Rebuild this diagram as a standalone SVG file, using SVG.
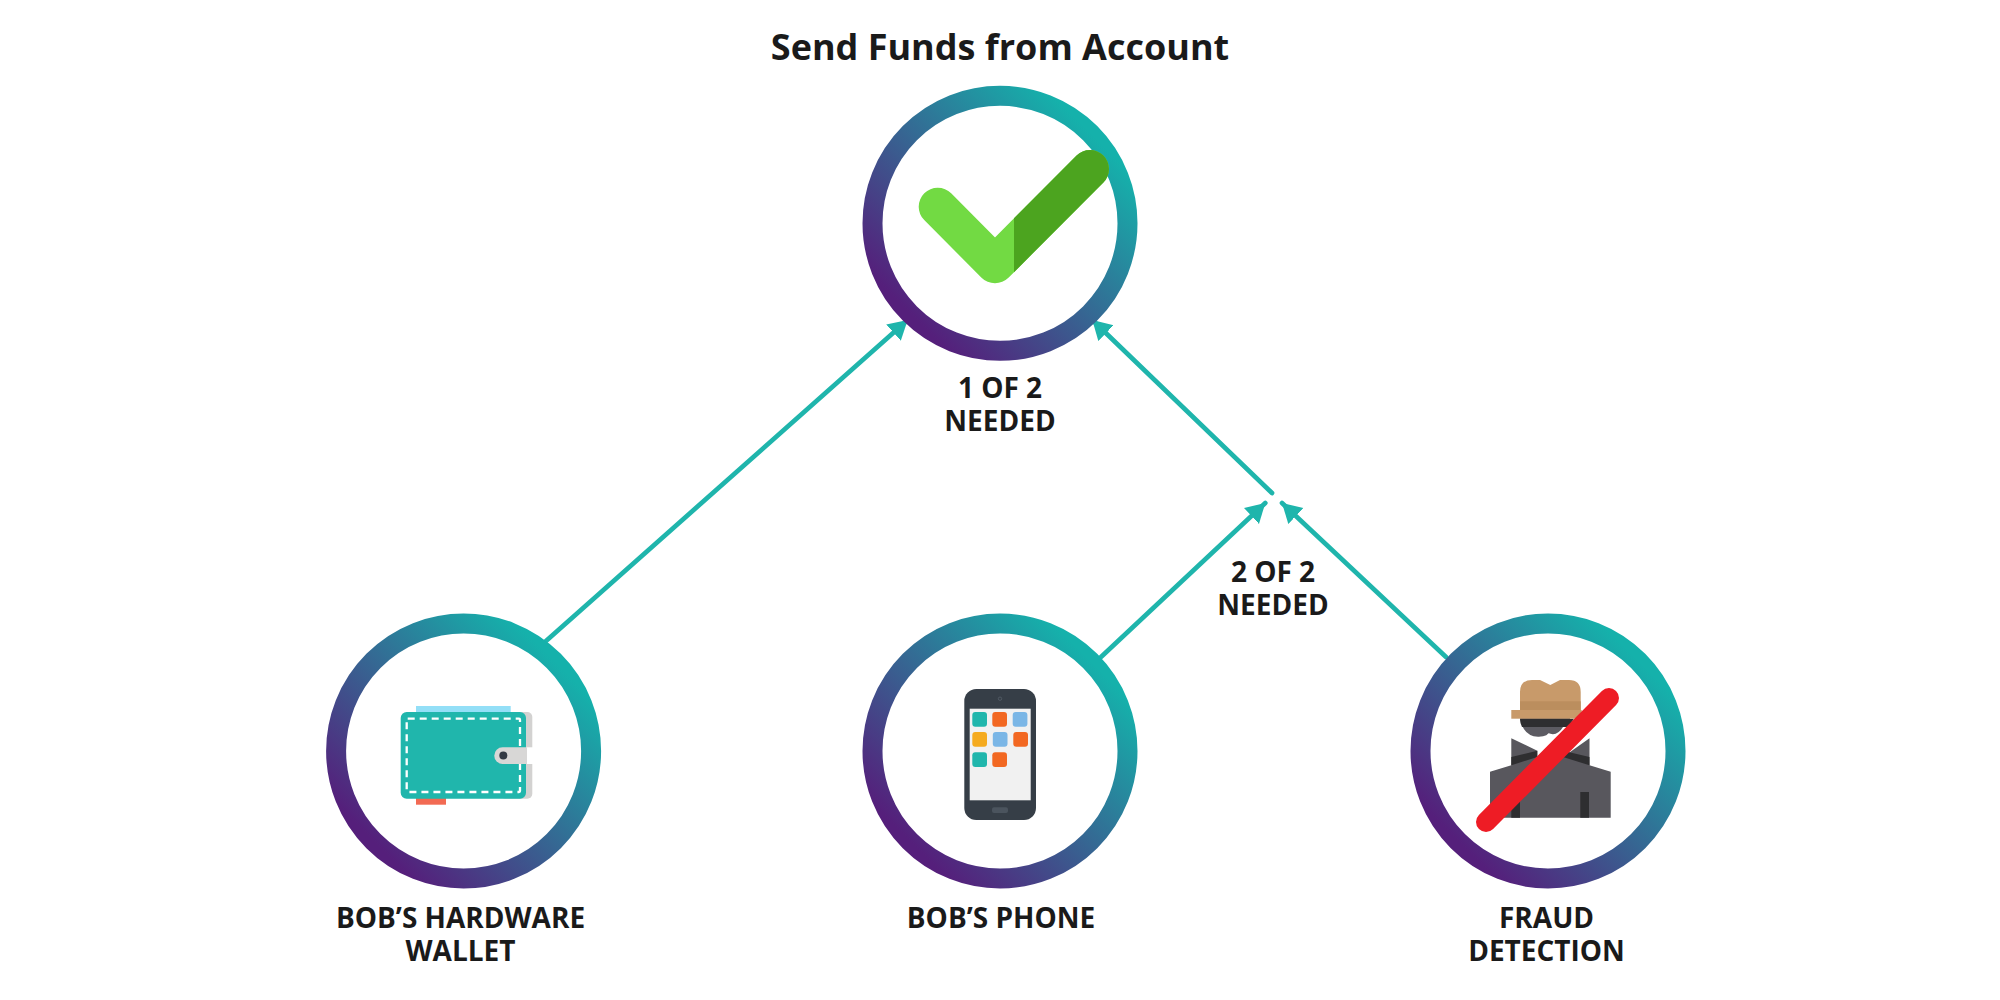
<svg xmlns="http://www.w3.org/2000/svg" width="2000" height="1000" viewBox="0 0 2000 1000">
<style>
text{font-family:"Open Sans","Liberation Sans",sans-serif;font-weight:700;fill:#1a1a1a;text-anchor:middle}
.lb{font-size:28px}
.ring{fill:#fff;stroke:url(#g);stroke-width:20}
.cn{fill:none;stroke:#1fb5ac;stroke-width:4.7;stroke-linecap:round}
</style>
<defs>
<linearGradient id="g" x1="0.146" y1="0.854" x2="0.854" y2="0.146"><stop offset="0" stop-color="#551f7b"/><stop offset="1" stop-color="#15b1ab"/></linearGradient>
<marker id="a" markerUnits="userSpaceOnUse" markerWidth="22" markerHeight="24" refX="19" refY="11" orient="auto"><path d="M0,0L19,11L0,22Z" fill="#1fb5ac"/></marker>
<clipPath id="c"><rect x="1014" y="100" width="100" height="200"/></clipPath>
</defs>
<rect width="2000" height="1000" fill="#fff"/>
<text x="1000" y="60" font-size="36">Send Funds from Account</text>
<g id="connectors">
<path class="cn" marker-end="url(#a)" d="M546,641L907.7,320"/>
<path class="cn" marker-end="url(#a)" d="M1272,493L1092.3,320"/>
<path class="cn" marker-end="url(#a)" d="M1101,657L1265.3,503"/>
<path class="cn" marker-end="url(#a)" d="M1446,657L1282,503"/>
</g>
<g id="account">
<circle class="ring" cx="1000" cy="223.3" r="127.5"/>
<path d="M937.7,206.7L995,264.3L1090,169" fill="none" stroke="#72da43" stroke-width="38" stroke-linecap="round" stroke-linejoin="round"/>
<path d="M937.7,206.7L995,264.3L1090,169" fill="none" stroke="#4ca41f" stroke-width="38" stroke-linecap="round" stroke-linejoin="round" clip-path="url(#c)"/>
<text class="lb"><tspan x="1000" y="398">1 OF 2</tspan><tspan x="1000" y="431">NEEDED</tspan></text>
</g>
<text class="lb"><tspan x="1273" y="582">2 OF 2</tspan><tspan x="1273" y="615">NEEDED</tspan></text>
<g id="wallet">
<circle class="ring" cx="463.6" cy="751" r="127.5"/>
<rect x="416" y="706" width="94.7" height="8" fill="#93dff7"/>
<rect x="416" y="796" width="30" height="8.7" fill="#f26a53"/>
<rect x="500" y="712" width="32.3" height="86.7" rx="5" fill="#d3d2d1"/>
<rect x="400.7" y="712" width="125.3" height="86.7" rx="6" fill="#20b6ac"/>
<rect x="406.7" y="718.7" width="113.3" height="73.3" rx="1" fill="none" stroke="#fff" stroke-width="2.3" stroke-dasharray="7 5"/>
<rect x="526" y="747.3" width="7" height="16.7" fill="#fff"/>
<path d="M527,747.3H502.6a8.35,8.35 0 0 0 0,16.7H527Z" fill="#d8d7d6"/>
<circle cx="503.3" cy="755.5" r="4" fill="#333a44"/>
<text class="lb"><tspan x="460.5" y="927.5">BOB’S HARDWARE</tspan><tspan x="460.5" y="960.5">WALLET</tspan></text>
</g>
<g id="phone">
<circle class="ring" cx="1000" cy="751" r="127.5"/>
<rect x="964.3" y="689" width="71.7" height="131" rx="12" fill="#363e47"/>
<rect x="969.7" y="708.7" width="61" height="91.6" fill="#f1f1f1"/>
<rect x="972.3" y="712" width="14.7" height="14.7" rx="3" fill="#20b6ac"/>
<rect x="992.3" y="712" width="14.7" height="14.7" rx="3" fill="#f26822"/>
<rect x="1012.7" y="712" width="14.7" height="14.7" rx="3" fill="#7ab6e6"/>
<rect x="972.3" y="732" width="14.7" height="14.7" rx="3" fill="#f5ab1f"/>
<rect x="992.8" y="732" width="14.7" height="14.7" rx="3" fill="#7ab6e6"/>
<rect x="1013.3" y="732" width="14.7" height="14.7" rx="3" fill="#f26822"/>
<rect x="972.3" y="752.3" width="14.7" height="14.7" rx="3" fill="#20b6ac"/>
<rect x="992.3" y="752.3" width="14.7" height="14.7" rx="3" fill="#f26822"/>
<rect x="992" y="807.3" width="16" height="5.6" rx="2" fill="#4b545e"/>
<circle cx="1000" cy="698.7" r="1.7" fill="none" stroke="#505963" stroke-width="1"/>
<text class="lb" x="1001" y="927.5">BOB’S PHONE</text>
</g>
<g id="fraud">
<circle class="ring" cx="1548" cy="751" r="127.5"/>
<path d="M1490,771.7L1511.3,765.3V738.3L1537.3,750.7V757L1550,745L1563,757L1589.5,738.3V765.3L1610.7,771.7V817.7H1490Z" fill="#58575d"/>
<path d="M1511.3,757L1537.3,750.7V757L1511.3,765.3ZM1589.5,757L1563,750.7V757L1589.5,765.3Z" fill="#2e2e30"/>
<path d="M1511.3,792H1520V817.7H1511.3ZM1580.3,792H1589V817.7H1580.3Z" fill="#2e2e30"/>
<path d="M1520,718H1570V727H1563Q1557,737 1548,733L1550,731Q1548,737 1538,736.7Q1523,736 1520,718Z" fill="#5c5b62"/>
<path d="M1520,718.7H1574L1568,727H1551Q1545,727 1540,727H1522Q1520,723 1520,718.7Z" fill="#2e2e30"/>
<path d="M1520,710V692Q1520,680 1532,680H1540L1550.3,685L1560,680H1569Q1580.7,680 1580.7,692V710Z" fill="#c89a6a"/>
<rect x="1520" y="701.3" width="60.7" height="8.7" fill="#bb8e5e"/>
<rect x="1511.3" y="710" width="70.4" height="8.7" fill="#c89a6a"/>
<path d="M1486,822L1609,698" stroke="#ee1c25" stroke-width="20" stroke-linecap="round" fill="none"/>
<text class="lb"><tspan x="1546.5" y="927.5">FRAUD</tspan><tspan x="1546.5" y="960.5">DETECTION</tspan></text>
</g>
</svg>
